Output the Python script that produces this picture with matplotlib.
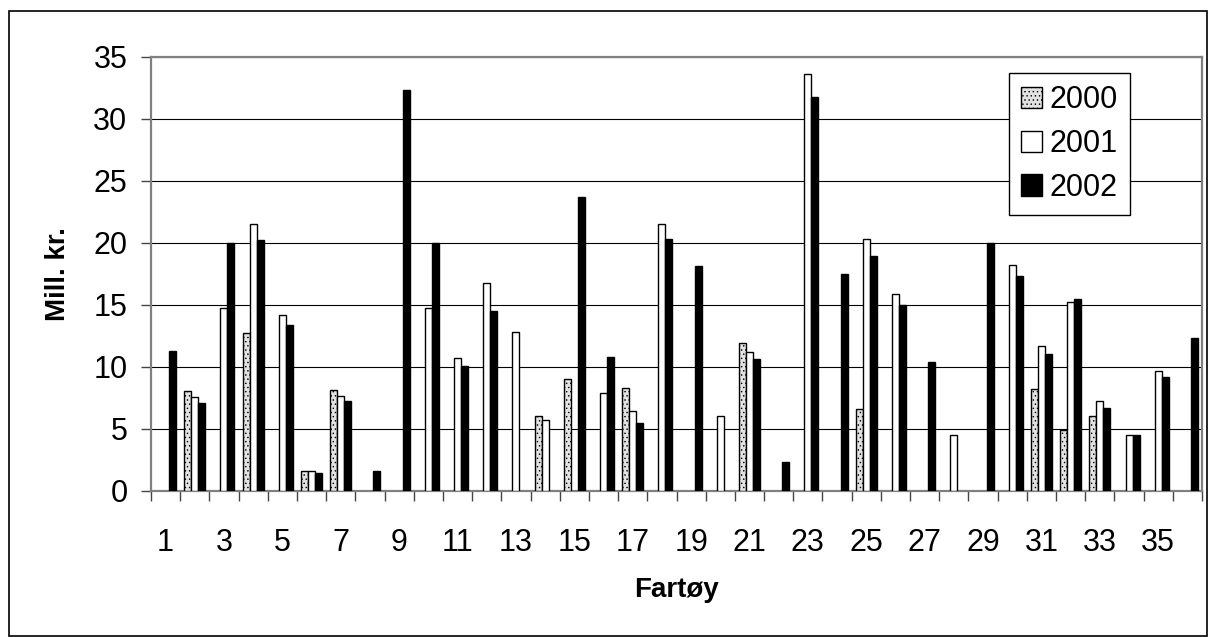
import numpy as np
import matplotlib
matplotlib.use("Agg")
import matplotlib.pyplot as plt
from matplotlib.patches import Rectangle

plt.rcParams['font.family'] = ['Liberation Sans', 'DejaVu Sans']
plt.rcParams['hatch.color'] = '#a8a8a8'
plt.rcParams['hatch.linewidth'] = 0.5

# data (Mill. kr.), nan = no bar
fartoy = np.arange(1, 37)
nan = np.nan
y2000 = [nan, 8.05, nan, 12.75, nan, 1.6, 8.1, nan, nan, nan,
         nan, nan, nan, 6.05, 9.0, nan, 8.3, nan, nan, nan,
         11.9, nan, nan, nan, 6.6, nan, nan, nan, nan, nan,
         8.2, 4.9, 6.0, nan, nan, nan]
y2001 = [nan, 7.6, 14.75, 21.5, 14.2, 1.55, 7.65, nan, nan, 14.75,
         10.7, 16.8, 12.8, 5.7, nan, 7.85, 6.4, 21.5, nan, 6.0,
         11.2, nan, 33.65, nan, 20.3, 15.85, nan, 4.5, nan, 18.25,
         11.7, 15.25, 7.2, 4.5, 9.7, nan]
y2002 = [11.3, 7.1, 20.0, 20.2, 13.35, 1.45, 7.25, 1.6, 32.3, 20.0,
         10.1, 14.5, nan, nan, 23.7, 10.8, 5.5, 20.3, 18.1, nan,
         10.6, 2.35, 31.8, 17.5, 18.95, 15.0, 10.35, nan, 19.95, 17.35,
         11.0, 15.5, 6.7, 4.5, 9.2, 12.3]
xlabels = [str(i) for i in range(1, 37, 2)]

W, H, DPI = 1208, 637, 100
fig = plt.figure(figsize=(W / DPI, H / DPI), dpi=DPI)
fig.patch.set_facecolor('white')
# outer chart frame
fig.patches.append(Rectangle((8.5 / W, 0.6 / H), (1207.2 - 8.5) / W, (636.4 - 10.5) / H,
                             transform=fig.transFigure, fill=False,
                             edgecolor='black', linewidth=1.2))

ax = fig.add_axes([151 / W, 1 - 490.7 / H, (1202 - 151) / W, (490.7 - 57) / H])

bw = 0.24
ax.bar(fartoy - bw, y2000, bw, color='#e2e2e2', hatch='....', edgecolor='black',
       linewidth=1.0, label='2000', zorder=3)
ax.bar(fartoy, y2001, bw, color='white', edgecolor='black',
       linewidth=1.0, label='2001', zorder=3)
ax.bar(fartoy + bw, y2002, bw, color='black', edgecolor='black',
       linewidth=1.0, label='2002', zorder=3)

ax.set_xlim(0.5, 36.5)
ax.set_ylim(0, 35)
ax.set_yticks(range(0, 36, 5))
ax.set_xticks(range(1, 37, 2))
ax.set_xticklabels(xlabels)
ax.set_xticks(np.arange(0.5, 37, 1), minor=True)
ax.tick_params(axis='x', which='major', length=0, pad=27, labelsize=22)
ax.tick_params(axis='x', which='minor', length=7, width=1, color='#444444')
ax.tick_params(axis='y', length=7, width=1, color='#444444', pad=10, labelsize=22)

ax.grid(axis='y', color='black', linewidth=0.8, zorder=0)
ax.set_axisbelow(True)
for s in ax.spines.values():
    s.set_color('#808080')
    s.set_linewidth(1.6)

fig.text(676 / W, 1 - 590 / H, 'Fartøy', ha='center', va='center',
         fontsize=20, fontweight='bold')
fig.text(58 / W, 1 - 274 / H, 'Mill. kr.', ha='center', va='center',
         rotation=90, fontsize=20, fontweight='bold')

leg = ax.legend(loc='upper left', bbox_to_anchor=(0.816, 0.963), fontsize=22,
                fancybox=False, framealpha=1, edgecolor='black',
                handlelength=0.7, handleheight=0.7, handletextpad=0.25,
                labelspacing=0.45, borderpad=0.4, borderaxespad=0)
leg.get_frame().set_linewidth(1.0)

fig.savefig('out.png', dpi=DPI)
